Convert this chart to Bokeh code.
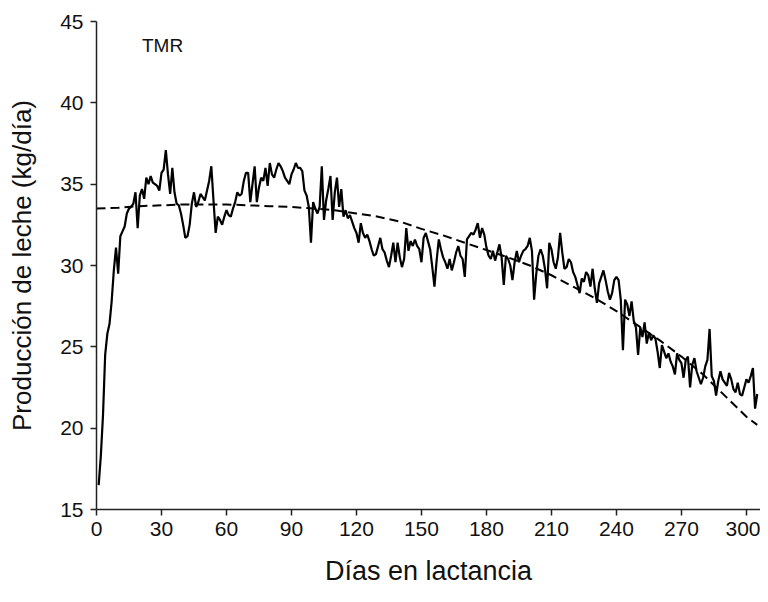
from bokeh.plotting import figure
from bokeh.models import Range1d, FixedTicker, Label
from bokeh.embed import file_html
from bokeh.resources import INLINE

days = list(range(1, 306))
milk = [
    16.5, 18.3, 20.8, 24.5, 25.8, 26.4, 27.8, 29.7, 31.1, 29.5,
    31.8, 32.1, 32.4, 33.2, 33.5, 33.6, 33.8, 34.5, 32.3, 34.3,
    34.7, 34.1, 35.4, 35.0, 35.5, 35.1, 35.0, 34.9, 34.6, 35.7,
    35.9, 37.1, 35.6, 34.4, 36.0, 34.5, 33.8, 33.7, 33.2, 32.5,
    31.7, 31.8, 32.5, 33.8, 34.5, 33.6, 33.9, 34.4, 34.2, 34.0,
    34.6, 35.2, 36.1, 34.0, 32.0, 33.0, 32.8, 32.5, 33.0, 33.4,
    33.1, 33.0, 33.5, 33.9, 34.5, 34.3, 34.4, 35.2, 35.7, 35.7,
    33.9, 35.0, 36.1, 33.9, 34.8, 35.4, 35.2, 36.0, 34.9, 36.3,
    35.6, 35.4, 35.9, 36.3, 36.1, 35.8, 35.4, 35.2, 35.0, 35.6,
    35.9, 36.3, 36.0, 36.0, 35.8, 34.6, 34.3, 33.6, 31.4, 33.9,
    33.5, 33.2, 33.6, 36.1, 32.8, 34.0, 34.7, 35.5, 32.8, 34.5,
    35.4, 33.6, 34.7, 33.0, 33.4, 32.9, 33.1, 32.7, 32.3, 32.0,
    31.4, 32.6, 32.0, 31.7, 31.9, 31.5, 31.0, 30.6, 30.7, 31.2,
    31.7, 31.0, 30.8, 30.3, 29.9, 30.6, 31.4, 30.2, 31.4, 30.5,
    29.9, 30.4, 32.3, 30.9, 31.5, 31.2, 31.6, 31.2, 31.0, 30.2,
    31.7, 32.0, 31.5, 31.0, 29.9, 28.7, 30.3, 31.6, 31.0, 30.5,
    30.2, 29.8, 30.4, 29.7, 30.2, 30.8, 31.2, 30.6, 30.4, 29.3,
    31.6, 31.8, 32.0, 31.9, 32.2, 32.6, 31.7, 32.3, 31.9, 31.1,
    30.6, 30.4, 30.9, 30.3, 30.8, 31.3, 30.5, 28.8, 30.6, 30.4,
    30.0, 29.1, 30.2, 30.9, 30.2, 30.6, 30.9, 31.0, 31.2, 31.7,
    30.9, 27.9, 29.5, 30.6, 31.0, 30.6, 29.8, 28.6, 31.4, 31.0,
    30.2, 29.8, 30.5, 32.0, 30.8, 29.8, 29.9, 30.4, 30.2, 29.6,
    29.3, 28.8, 28.3, 29.2, 29.0, 29.6, 29.4, 28.7, 29.8, 28.6,
    27.7, 28.9, 29.3, 29.7, 29.1, 28.4, 27.9, 28.3, 29.1, 29.3,
    29.1, 27.9, 24.8, 27.9, 27.6, 26.9, 27.8, 26.6, 26.2, 24.5,
    26.2, 25.6, 26.5, 25.2, 25.9, 25.4, 25.7, 25.5, 24.7, 23.7,
    25.1, 24.7, 24.3, 24.6, 24.1, 23.8, 23.3, 24.6, 24.2, 24.0,
    23.1, 24.2, 24.4, 22.5, 23.9, 24.3, 23.5, 23.1, 22.7, 23.1,
    23.8, 24.2, 26.1, 23.2, 22.9, 22.0, 22.9, 23.5, 23.0, 22.8,
    22.6, 23.4, 23.0, 22.4, 22.2, 22.8, 22.1, 22.0, 22.5, 23.0,
    22.8, 23.2, 23.7, 21.2, 22.1,
]

fit_days = [0, 10, 20, 30, 40, 50, 60, 70, 80, 90, 100, 110, 120, 130, 140,
            150, 160, 170, 180, 190, 200, 210, 220, 230, 240, 250, 260, 270,
            280, 290, 300, 305]
fit_milk = [33.5, 33.55, 33.65, 33.7, 33.75, 33.75, 33.75, 33.7, 33.65, 33.6,
            33.5, 33.4, 33.2, 33.0, 32.7, 32.25, 31.85, 31.4, 30.95, 30.5,
            30.0, 29.4, 28.7, 28.0, 27.2, 26.3, 25.4, 24.4, 23.3, 22.0,
            20.7, 20.2]

x_ticks = [0, 30, 60, 90, 120, 150, 180, 210, 240, 270, 300]
y_ticks = [15, 20, 25, 30, 35, 40, 45]

FONT = "Liberation Sans"

p = figure(width=760, height=594, output_backend="svg", toolbar_location=None,
           x_range=Range1d(0, 306.5), y_range=Range1d(15, 45),
           min_border_left=96, min_border_right=0, min_border_top=21,
           min_border_bottom=85)
p.outline_line_color = None
p.grid.grid_line_color = None
p.background_fill_color = "white"
p.border_fill_color = "white"

p.line(fit_days, fit_milk, line_color="black", line_width=2, line_dash="9 5")
p.line(days, milk, line_color="black", line_width=2.2)

p.add_layout(Label(x=21, y=43.5, text="TMR", text_font=FONT,
                   text_font_size="19px", text_color="#111111",
                   text_baseline="alphabetic"))

for ax in (p.xaxis[0], p.yaxis[0]):
    ax.axis_line_color = "#222222"
    ax.axis_line_width = 1.5
    ax.major_tick_line_color = "#222222"
    ax.major_tick_line_width = 1.5
    ax.major_tick_in = 0
    ax.major_tick_out = 6
    ax.minor_tick_line_color = None
    ax.major_label_text_font = FONT
    ax.major_label_text_font_size = "21px"
    ax.major_label_text_color = "#111111"
    ax.axis_label_text_font = FONT
    ax.axis_label_text_font_style = "normal"
    ax.axis_label_text_color = "#111111"

p.xaxis.axis_label_text_font_size = "27px"
p.yaxis.axis_label_text_font_size = "26px"
p.xaxis.ticker = FixedTicker(ticks=x_ticks)
p.yaxis.ticker = FixedTicker(ticks=y_ticks)
p.xaxis.axis_label = "Días en lactancia"
p.yaxis.axis_label = "Producción de leche (kg/día)"
p.xaxis.major_label_standoff = 6
p.yaxis.major_label_standoff = 7
p.xaxis.axis_label_standoff = 17
p.yaxis.axis_label_standoff = 20

open("out.html", "w").write(file_html(p, INLINE))
